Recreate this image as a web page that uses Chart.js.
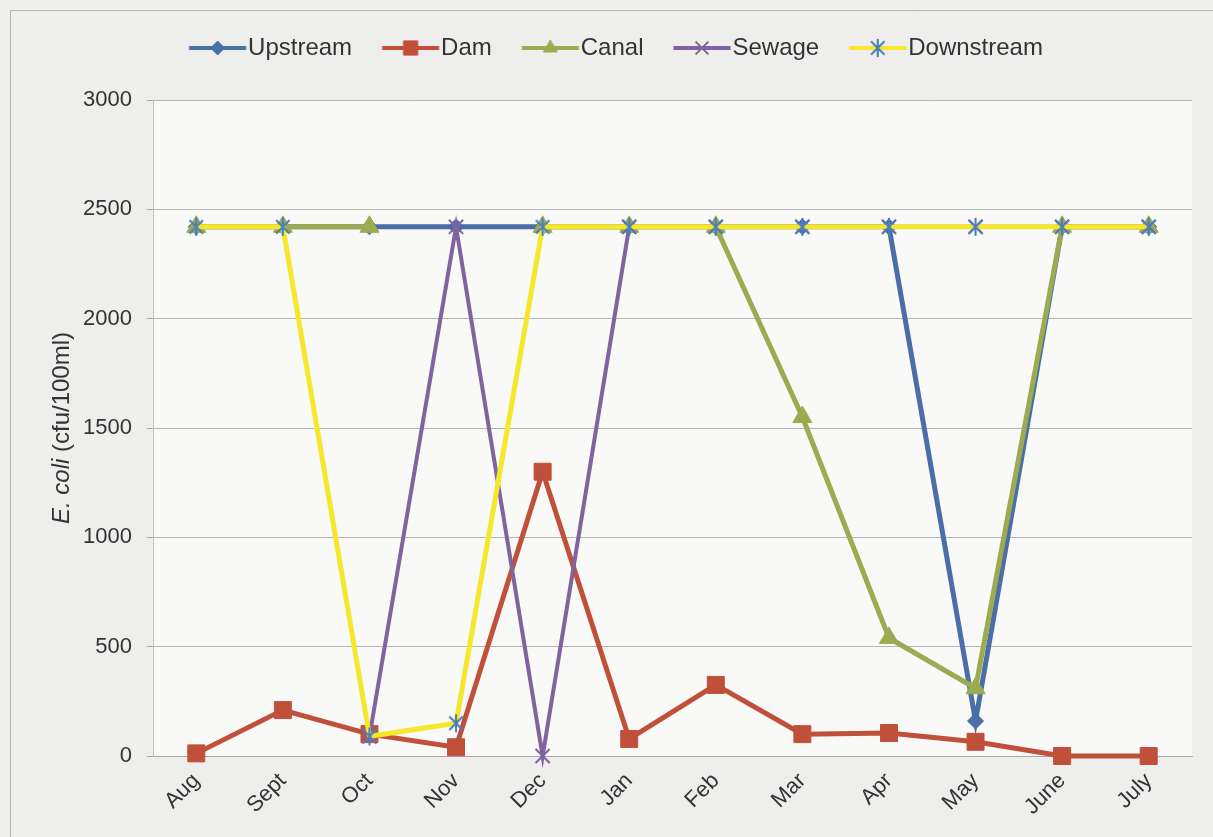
<!DOCTYPE html>
<html>
<head>
<meta charset="utf-8">
<script src="https://cdn.jsdelivr.net/npm/chart.js@4"></script>
<style>
  html, body { margin: 0; padding: 0; background: #eeeeec; }
  #wrap { width: 1213px; height: 837px; position: relative; }
</style>
</head>
<body>
<div id="wrap"><canvas id="c" width="1213" height="837"></canvas></div>
<script>
const months = ['Aug','Sept','Oct','Nov','Dec','Jan','Feb','Mar','Apr','May','June','July'];
const upstream   = [2420,2420,2420,2420,2420,2420,2420,2420,2420,160,2420,2420];
const dam        = [12,210,100,40,1300,78,325,100,105,65,0,0];
const canal      = [2420,2420,2420,null,2420,2420,2420,1550,540,310,2420,2420];
const sewage     = [null,null,90,2420,0,2420,2420,2420,2420,2420,2420,2420];
const downstream = [2420,2420,90,150,2420,2420,2420,2420,2420,2420,2420,2420];
const yTicks = [0,500,1000,1500,2000,2500,3000];

const FONT = '"Liberation Sans", Arial, sans-serif';
const C_UP = '#4a6ea8', C_DAM = '#c0503a', C_CANAL = '#9cab50', C_SEW = '#8064a0', C_DOWN = '#f6e72c', C_STAR = '#4a7ebb';

function starImage(size, color) {
  const c = document.createElement('canvas');
  c.width = size; c.height = size;
  const g = c.getContext('2d');
  g.strokeStyle = color; g.lineWidth = 2;
  const m = size / 2, r = size / 2 - 2;
  g.beginPath();
  g.moveTo(m - r * 0.75, m - r * 0.75); g.lineTo(m + r * 0.75, m + r * 0.75);
  g.moveTo(m + r * 0.75, m - r * 0.75); g.lineTo(m - r * 0.75, m + r * 0.75);
  g.moveTo(m, m - r); g.lineTo(m, m + r);
  g.stroke();
  return c;
}
const starMarker = starImage(22, C_STAR);

// legend swatch: canvas 70 wide, line from 11.5 to 68.5, marker at 40
function legendImage(lineColor, markerFn) {
  const c = document.createElement('canvas');
  c.width = 70; c.height = 24;
  const g = c.getContext('2d');
  g.strokeStyle = lineColor; g.lineWidth = 4; g.lineCap = 'butt';
  g.beginPath(); g.moveTo(11.5, 12); g.lineTo(68.5, 12); g.stroke();
  markerFn(g, 40, 12);
  return c;
}
function pointFn(style, radius, fill, stroke, bw) {
  return (g, x, y) => {
    g.fillStyle = fill; g.strokeStyle = stroke; g.lineWidth = bw;
    if (style === 'image') { g.drawImage(starMarker, x - 11, y - 11); return; }
    Chart.helpers.drawPoint(g, {pointStyle: style, radius: radius, rotation: 0, borderWidth: bw}, x, y);
  };
}

const datasets = [
  {label: 'Upstream', data: upstream, borderColor: C_UP, backgroundColor: C_UP, borderWidth: 5,
   pointStyle: 'rectRot', pointRadius: 8, pointBorderWidth: 1, order: 4,
   legendImg: legendImage(C_UP, pointFn('rectRot', 7, C_UP, C_UP, 1))},
  {label: 'Dam', data: dam, borderColor: C_DAM, backgroundColor: C_DAM, borderWidth: 5,
   pointStyle: 'rect', pointRadius: 12, pointBorderWidth: 1, order: 3,
   legendImg: legendImage(C_DAM, pointFn('rect', 10, C_DAM, C_DAM, 1))},
  {label: 'Canal', data: canal, borderColor: C_CANAL, backgroundColor: C_CANAL, borderWidth: 5,
   pointStyle: 'triangle', pointRadius: 11, pointBorderWidth: 1, order: 2,
   legendImg: legendImage(C_CANAL, pointFn('triangle', 8, C_CANAL, C_CANAL, 1))},
  {label: 'Sewage', data: sewage, borderColor: C_SEW, backgroundColor: C_SEW, borderWidth: 4,
   pointStyle: 'crossRot', pointRadius: 10, pointBorderWidth: 2, pointBorderColor: C_SEW, order: 1,
   legendImg: legendImage(C_SEW, pointFn('crossRot', 9, C_SEW, C_SEW, 2))},
  {label: 'Downstream', data: downstream, borderColor: C_DOWN, backgroundColor: C_DOWN, borderWidth: 5,
   pointStyle: starMarker, pointRadius: 10, order: 0,
   legendImg: legendImage(C_DOWN, pointFn('image'))}
];
datasets.forEach(d => { d.tension = 0; d.fill = false; d.clip = false; d.spanGaps = false; });

const bgPlugin = {
  id: 'bg',
  beforeDraw(chart) {
    const {ctx, chartArea: a} = chart;
    ctx.save();
    ctx.fillStyle = '#eeeeec';
    ctx.fillRect(0, 0, chart.width, chart.height);
    ctx.fillStyle = '#f9f9f8';
    ctx.fillRect(a.left, a.top, a.right - a.left, a.bottom - a.top);
    ctx.strokeStyle = '#b8b8b8'; ctx.lineWidth = 1;
    ctx.beginPath();
    ctx.moveTo(10.5, chart.height); ctx.lineTo(10.5, 10.5); ctx.lineTo(chart.width, 10.5);
    ctx.stroke();
    ctx.restore();
  },
  afterDraw(chart) {
    const {ctx, chartArea: a} = chart;
    ctx.save();
    const bx = 69, cy = (a.top + a.bottom) / 2;
    ctx.translate(bx, cy);
    ctx.rotate(-Math.PI / 2);
    ctx.fillStyle = '#333333';
    ctx.textBaseline = 'alphabetic';
    const f1 = 'italic 24px ' + FONT, f2 = '24px ' + FONT;
    const t1 = 'E. coli', t2 = ' (cfu/100ml)';
    ctx.font = f1; const w1 = ctx.measureText(t1).width;
    ctx.font = f2; const w2 = ctx.measureText(t2).width;
    const x = -(w1 + w2) / 2;
    ctx.font = f1; ctx.textAlign = 'left'; ctx.fillText(t1, x, 0);
    ctx.font = f2; ctx.fillText(t2, x + w1, 0);
    ctx.restore();
  }
};

const legendHeight = {
  id: 'legendHeight',
  beforeInit(chart) {
    const orig = chart.legend.fit;
    chart.legend.fit = function () { orig.bind(this)(); this.height = 94; };
  }
};

new Chart(document.getElementById('c'), {
  type: 'line',
  data: {labels: months, datasets: datasets},
  options: {
    responsive: false,
    animation: false,
    devicePixelRatio: 1,
    layout: {padding: {left: 40, right: 21, top: 6, bottom: 0}},
    plugins: {
      legend: {
        position: 'top',
        labels: {
          usePointStyle: true,
          pointStyleWidth: 47,
          padding: 30,
          color: '#333333',
          font: {family: FONT, size: 24},
          sort: (a, b) => a.datasetIndex - b.datasetIndex,
          generateLabels(chart) {
            return chart.data.datasets.map((d, i) => ({
              text: d.label, datasetIndex: i, pointStyle: d.legendImg,
              fillStyle: d.borderColor, strokeStyle: d.borderColor, lineWidth: 0,
              hidden: false, fontColor: '#333333'
            }));
          }
        }
      },
      tooltip: {enabled: false}
    },
    scales: {
      x: {
        offset: true,
        grid: {display: false, drawTicks: false},
        border: {display: true, color: '#a8a8a8', width: 1},
        ticks: {color: '#333333', font: {family: FONT, size: 22}, maxRotation: 45, minRotation: 45, padding: 12, autoSkip: false},
        afterFit(s) { s.height = 81; }
      },
      y: {
        min: 0, max: 3000,
        afterBuildTicks(s) { s.ticks = yTicks.map(v => ({value: v})); },
        grid: {color: '#b4b4b4', lineWidth: 1, drawTicks: true, tickLength: 6, tickColor: '#a8a8a8'},
        border: {display: true, color: '#c4c4c4', width: 1},
        ticks: {color: '#333333', font: {family: FONT, size: 22}, padding: 15, callback: v => String(v)},
        afterFit(s) { s.width = 113; }
      }
    }
  },
  plugins: [bgPlugin, legendHeight]
});
</script>
</body>
</html>
